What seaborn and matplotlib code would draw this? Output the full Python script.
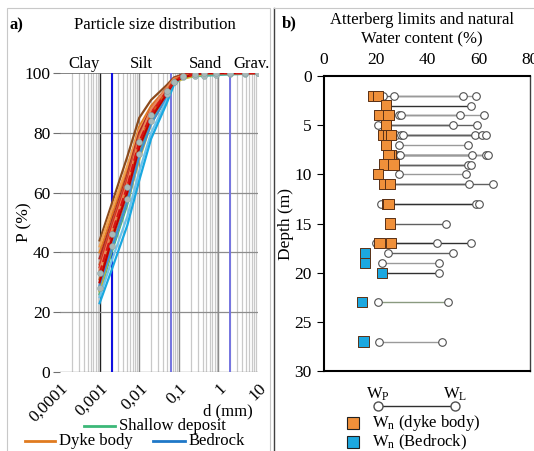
import matplotlib
matplotlib.use("Agg")
import numpy as np
import pandas as pd
import matplotlib.pyplot as plt
import seaborn as sns
from matplotlib.lines import Line2D
from matplotlib.patches import Rectangle
from matplotlib.ticker import FixedLocator, NullFormatter, NullLocator

# grain size (mm) for the hydrometer + sieve points
d_mm = [0.001, 0.002, 0.005, 0.01, 0.02, 0.05, 0.075,
        0.125, 0.25, 0.425, 0.85, 2.0, 4.75, 10.0]

# percent passing
dyke_1 = [44, 56, 72, 85, 91, 96, 98.5, 99.5, 100, 100, 100, 100, 100, 100]
dyke_2 = [40, 52, 68, 82, 89, 95, 98, 99.5, 100, 100, 100, 100, 100, 100]
dyke_3 = [38, 50, 66, 80, 88, 95, 98, 99.5, 100, 100, 100, 100, 100, 100]
dyke_4 = [35, 48, 64, 78, 87, 94, 97.5, 99, 99.5, 100, 100, 100, 100, 100]
dyke_5 = [42, 54, 69, 81, 88, 95, 98, 99, 99.5, 100, 100, 100, 100, 100]
dyke_6 = [33, 46, 62, 77, 86, 94, 97, 99, 99.5, 100, 100, 100, 100, 100]
dyke_7 = [36, 49, 65, 79, 87, 94, 98, 99, 99.5, 100, 100, 100, 100, 100]
dyke_8 = [31, 45, 61, 76, 86, 94, 97.5, 99, 99.5, 100, 100, 100, 100, 100]
dyke_9 = [30, 44, 60, 75, 85, 93, 97, 98.5, 99.5, 100, 100, 100, 100, 100]
dyke_10 = [34, 47, 63, 78, 88, 95, 98, 99, 99.5, 100, 100, 100, 100, 100]
shallow_1 = [28, 42, 58, 73, 84, 93, 97, 98.5, 99, 99, 99.3, 99.5, 99.7, 100]
shallow_2 = [26, 40, 56, 72, 84, 93, 97, 98.5, 99, 99.5, 100, 100, 100, 100]
shallow_3 = [27, 41, 57, 71, 83, 92, 96.5, 98, 99, 99.5, 100, 100, 100, 100]
bedrock_1 = [23, 34, 49, 64, 78, 90, 96, 99, 100, 100, 100, 100, 100, 100]
bedrock_2 = [25, 37, 52, 67, 80, 91, 96.5, 99, 100, 100, 100, 100, 100, 100]
bedrock_3 = [29, 41, 57, 72, 83, 92, 97, 99, 100, 100, 100, 100, 100, 100]

# Atterberg limits: depth (m), natural water content, plastic and liquid limit (%)
depth = [2, 2, 3, 4, 4, 5, 5, 6, 6, 6, 7, 8, 8, 8, 9, 9, 10, 11, 11, 13, 13, 15, 17, 17,
         18, 19, 20, 23, 27]
w_n = [19, 21, 24, 21.5, 25, 24, 24, 23, 25, 26, 24, 25.5, 26, 25, 23.5, 27, 21, 23.5, 25.5,
       24.5, 25, 25.5, 21.5, 26, 16, 16, 22.5, 14.7, 15.3]
w_p = [23, 27, 24, 29, 30, 21, 24, 28, 30, 30.5, 29, 28, 29, 29.5, 26.5, 27, 29, 25.5, 26,
       22, 25, 25.5, 20, 26, 25, 22.5, 22.5, 20.8, 21.2]
w_l = [54, 59, 57, 53, 62, 50, 59.5, 58.5, 61.5, 63, 56, 57.5, 63, 63.5, 56, 57, 55, 56.5,
       65.5, 59, 60, 47.5, 44, 57, 50, 44.8, 44.5, 48, 46]
unit = ['dyke body'] * 24 + ['bedrock'] * 5

fig = plt.figure(figsize=(5.34, 4.51), dpi=100)
serif = 'Liberation Serif'
plt.rcParams['font.family'] = serif
plt.rcParams['mathtext.fontset'] = 'custom'
plt.rcParams['mathtext.rm'] = serif
plt.rcParams['mathtext.it'] = serif
fs = 12
fst = 12.5

W, H = 534, 451


def fx(px):
    return px / W


def fy(py):
    return 1 - py / H


# panel frames
fig.add_artist(Rectangle((fx(7), fy(460)), fx(263), fy(8) - fy(460), fill=False,
                         edgecolor='#c8c8c8', lw=0.8, transform=fig.transFigure))
fig.add_artist(Line2D([fx(274), fx(274)], [fy(8), fy(451)], color='#404040', lw=1.0))
fig.add_artist(Line2D([fx(274), fx(534)], [fy(8), fy(8)], color='#c8c8c8', lw=0.8))

# ---------------- a) particle size distribution ----------------
ax = fig.add_axes([fx(60), fy(372), fx(198), fy(73) - fy(372)])
ax.set_xscale('log')
ax.set_xlim(1e-4, 10)
ax.set_ylim(0, 100)

minor = [m * 10.0 ** k for k in range(-4, 1) for m in range(2, 10)]
for v in minor:
    ax.axvline(v, color='#c9c9c9', lw=0.9, zorder=0)
for v in [1e-3, 1e-2, 1e-1, 1]:
    ax.axvline(v, color='#8c8c8c' if v != 1e-3 else '#202020', lw=1.0, zorder=0)
for v in [20, 40, 60, 80]:
    ax.axhline(v, color='#8c8c8c', lw=0.9, zorder=0)
ax.axhline(100, color='#707070', lw=1.2, zorder=0)
ax.axhline(0, color='#8c8c8c', lw=1.0, zorder=0)
ax.axvline(0.002, color='#1010e0', lw=1.5, zorder=1)
ax.axvline(0.063, color='#7474e0', lw=1.4, zorder=1)
ax.axvline(2.0, color='#7474e0', lw=1.4, zorder=1)

curves = [
    (shallow_1, '#4fb7a8', '-', 'o'),
    (shallow_2, '#3cb878', '-', None),
    (shallow_3, '#c9b43a', '-', None),
    (bedrock_3, '#3e8fd6', '-', None),
    (bedrock_2, '#6ec3ea', '-', None),
    (bedrock_1, '#19a8e0', '-', None),
    (dyke_1, '#8b4a1c', '-', None),
    (dyke_2, '#e07b20', '-', None),
    (dyke_5, '#f0a050', '-', None),
    (dyke_3, '#b22222', '-', None),
    (dyke_7, '#c06030', '-', None),
    (dyke_4, '#e02020', '-', None),
    (dyke_10, '#e8875a', '-', None),
    (dyke_8, '#d0601a', '-', None),
    (dyke_9, '#c00000', '-', None),
    (dyke_6, '#d41414', '--', 'o'),
]
for vals, col, ls, mk in curves:
    sns.lineplot(x=d_mm, y=vals, color=col, lw=1.6, ls=ls, ax=ax, zorder=3)
    if mk:
        sns.scatterplot(x=d_mm, y=vals, color='#a8b8b8', edgecolor='#7fa0a0', s=18,
                        ax=ax, zorder=4)

for s in ax.spines.values():
    s.set_visible(False)
ax.xaxis.set_major_locator(FixedLocator([1e-4, 1e-3, 1e-2, 1e-1, 1, 10]))
ax.xaxis.set_minor_locator(NullLocator())
ax.xaxis.set_minor_formatter(NullFormatter())
ax.set_xticklabels(['0,0001', '0,001', '0,01', '0,1', '1', '10'], rotation=45,
                   ha='right', rotation_mode='anchor', fontsize=fst)
ax.tick_params(axis='x', length=0, pad=6)
ax.set_yticks([0, 20, 40, 60, 80, 100])
ax.tick_params(axis='y', length=5, color='#707070', labelsize=fst, pad=2)
ax.set_ylabel('P (%)', fontsize=fst, labelpad=-6)
ax.set_xlabel('')

fig.text(fx(10), fy(25), 'a)', fontsize=fs, fontweight='bold', va='center')
fig.text(fx(155), fy(25), 'Particle size distribution', fontsize=fs, ha='center', va='center')
for lab, px in [('Clay', 84), ('Silt', 141), ('Sand', 206), ('Grav.', 252)]:
    fig.text(fx(px), fy(64), lab, fontsize=fs, ha='center', va='center')
fig.text(fx(228), fy(411), 'd (mm)', fontsize=fs, ha='center', va='center')

# legend for panel a)
for x0, x1, y, col, lab in [(84, 115, 426, '#3cb878', 'Shallow deposit'),
                            (25, 55, 441, '#e07b20', 'Dyke body'),
                            (153, 185, 441, '#1f78c8', 'Bedrock')]:
    fig.add_artist(Line2D([fx(x0), fx(x1)], [fy(y), fy(y)], color=col, lw=2))
    fig.text(fx(x1 + 4), fy(y), lab, fontsize=fs, va='center')

# ---------------- b) Atterberg limits ----------------
bx = fig.add_axes([fx(324), fy(371), fx(206), fy(76) - fy(371)])
df = pd.DataFrame({'depth': depth, 'wn': w_n, 'wp': w_p, 'wl': w_l, 'unit': unit})

line_cols = ['#606060', '#9a9a9a', '#303030']
for i, r in df.iterrows():
    col = '#8a9a80' if r['depth'] == 23 else line_cols[i % 3]
    bx.plot([r['wp'], r['wl']], [r['depth'], r['depth']], color=col, lw=1.0, zorder=2)

sns.scatterplot(x=df['wp'], y=df['depth'], marker='o', s=30, facecolor='white',
                edgecolor='#505050', linewidth=0.8, ax=bx, zorder=3)
sns.scatterplot(x=df['wl'], y=df['depth'], marker='o', s=30, facecolor='white',
                edgecolor='#505050', linewidth=0.8, ax=bx, zorder=3)
sns.scatterplot(data=df, x='wn', y='depth', hue='unit', marker='s', s=55,
                palette={'dyke body': '#f0903a', 'bedrock': '#1ca8e0'},
                edgecolor='#5a3015', linewidth=0.7, legend=False, ax=bx, zorder=4)

bx.set_xlim(0, 80)
bx.set_ylim(30, 0)
bx.xaxis.tick_top()
bx.set_xticks([0, 20, 40, 60, 80])
bx.set_yticks([0, 5, 10, 15, 20, 25, 30])
bx.tick_params(axis='x', length=0, labelsize=fst, pad=6)
bx.tick_params(axis='y', length=5, labelsize=fst, pad=4)
bx.set_xlabel('')
bx.set_ylabel('Depth (m)', fontsize=fst, labelpad=0)
for side in ['top', 'left', 'bottom']:
    bx.spines[side].set_linewidth(1.5)
    bx.spines[side].set_color('black')
bx.spines['right'].set_linewidth(1.0)
bx.spines['right'].set_color('#404040')

fig.text(fx(282), fy(23), 'b)', fontsize=fs, fontweight='bold', va='center')
fig.text(fx(422), fy(20), 'Atterberg limits and natural', fontsize=fs, ha='center', va='center')
fig.text(fx(422), fy(39), 'Water content (%)', fontsize=fs, ha='center', va='center')

# legend for panel b)
fig.add_artist(Line2D([fx(378), fx(455)], [fy(406), fy(406)], color='#303030', lw=1.0,
                      marker='o', markersize=6.5, markerfacecolor='white',
                      markeredgecolor='#505050'))
fig.text(fx(378), fy(394), r'W$_\mathrm{P}$', fontsize=fs, ha='center', va='center')
fig.text(fx(455), fy(394), r'W$_\mathrm{L}$', fontsize=fs, ha='center', va='center')
for y, col, lab in [(423, '#f0903a', r'W$_\mathrm{n}$ (dyke body)'),
                    (442, '#1ca8e0', r'W$_\mathrm{n}$ (Bedrock)')]:
    fig.add_artist(Line2D([fx(353)], [fy(y)], marker='s', markersize=8.5, color=col,
                          markeredgecolor='#202020', markeredgewidth=0.8, lw=0))
    fig.text(fx(372), fy(y), lab, fontsize=fs, va='center')

fig.savefig('out.png', dpi=100)
